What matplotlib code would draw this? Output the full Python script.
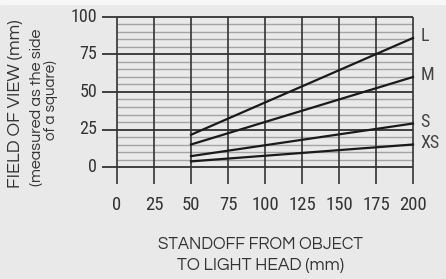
from matplotlib import pyplot as plt
from matplotlib.patches import Rectangle

# standoff distance (mm) and field of view (mm) for each lens size
standoff = [50, 200]
fov_L = [21.5, 86]
fov_M = [15, 60]
fov_S = [7.25, 29]
fov_XS = [3.75, 15]
sizes = ["L", "M", "S", "XS"]

x_ticks = [0, 25, 50, 75, 100, 125, 150, 175, 200]
y_ticks = [0, 25, 50, 75, 100]
y_minor = [v for v in range(5, 100, 5) if v % 25 != 0]

bg = '#e9e9e9'
ink = '#333333'
narrow = ['Roboto Condensed', 'Liberation Sans Narrow', 'DejaVu Sans']
gothic = ['Questrial', 'Didact Gothic', 'DejaVu Sans']

fig = plt.figure(figsize=(4.46, 2.79), dpi=100)
fig.patch.set_facecolor(bg)
fig.patches.append(Rectangle((0, 0.986), 1, 0.014, transform=fig.transFigure,
                             color='#f7f7f7', zorder=0))

ax = fig.add_axes([0, 0, 1, 1])
ax.set_facecolor(bg)
ax.set_xlim(-117/1.48, (446-117)/1.48)
ax.set_ylim(-(279-167)/1.5, 100 + 17/1.5)
ax.axis('off')

# grid
ax.hlines(y_minor, 0, 200, color='#a3a3a3', lw=1.0, zorder=1)
ax.hlines(y_ticks, -10, 200, color=ink, lw=1.3, zorder=2)
ax.vlines(x_ticks, -11, 100, color=ink, lw=1.2, zorder=2)

# curves
for fov in [fov_L, fov_M, fov_S, fov_XS]:
    ax.plot(standoff, fov, color='#1a1a1a', lw=1.6, zorder=3)

# size labels
for name, fov in zip(sizes, [fov_L, fov_M, fov_S, fov_XS]):
    ax.text(205, fov[1] + 1, name, family=narrow, fontsize=13,
            color='#444444', ha='left', va='center')

# tick labels
for v in y_ticks:
    ax.text(-13.5, v, str(v), family=narrow, fontsize=13,
            color=ink, ha='right', va='center')
for v in x_ticks:
    ax.text(v, -25, str(v), family=narrow, fontsize=13.5,
            color=ink, ha='center', va='center')

# axis titles, sized to the lengths they have in the picture
renderer = fig.canvas.get_renderer()

def fitted(x, y, s, length, rot=0, **kw):
    t = fig.text(x, y, s, rotation=rot, fontsize=10, family=gothic,
                 color=ink, ha='center', va='center', **kw)
    bb = t.get_window_extent(renderer)
    cur = bb.height if rot else bb.width
    t.set_fontsize(10 * length / cur)
    return t

fitted(0.036, 0.627, "FIELD OF VIEW (mm)", 168, rot=90)
fitted(0.082, 0.616, "(measured as the side", 159, rot=90, weight='bold')
fitted(0.114, 0.642, "of a square)", 80, rot=90, weight='bold')
fitted(0.585, 0.122, "STANDOFF FROM OBJECT", 205)
fitted(0.585, 0.050, "TO LIGHT HEAD (mm)", 167)

plt.savefig('out.png', dpi=100, facecolor=bg)
